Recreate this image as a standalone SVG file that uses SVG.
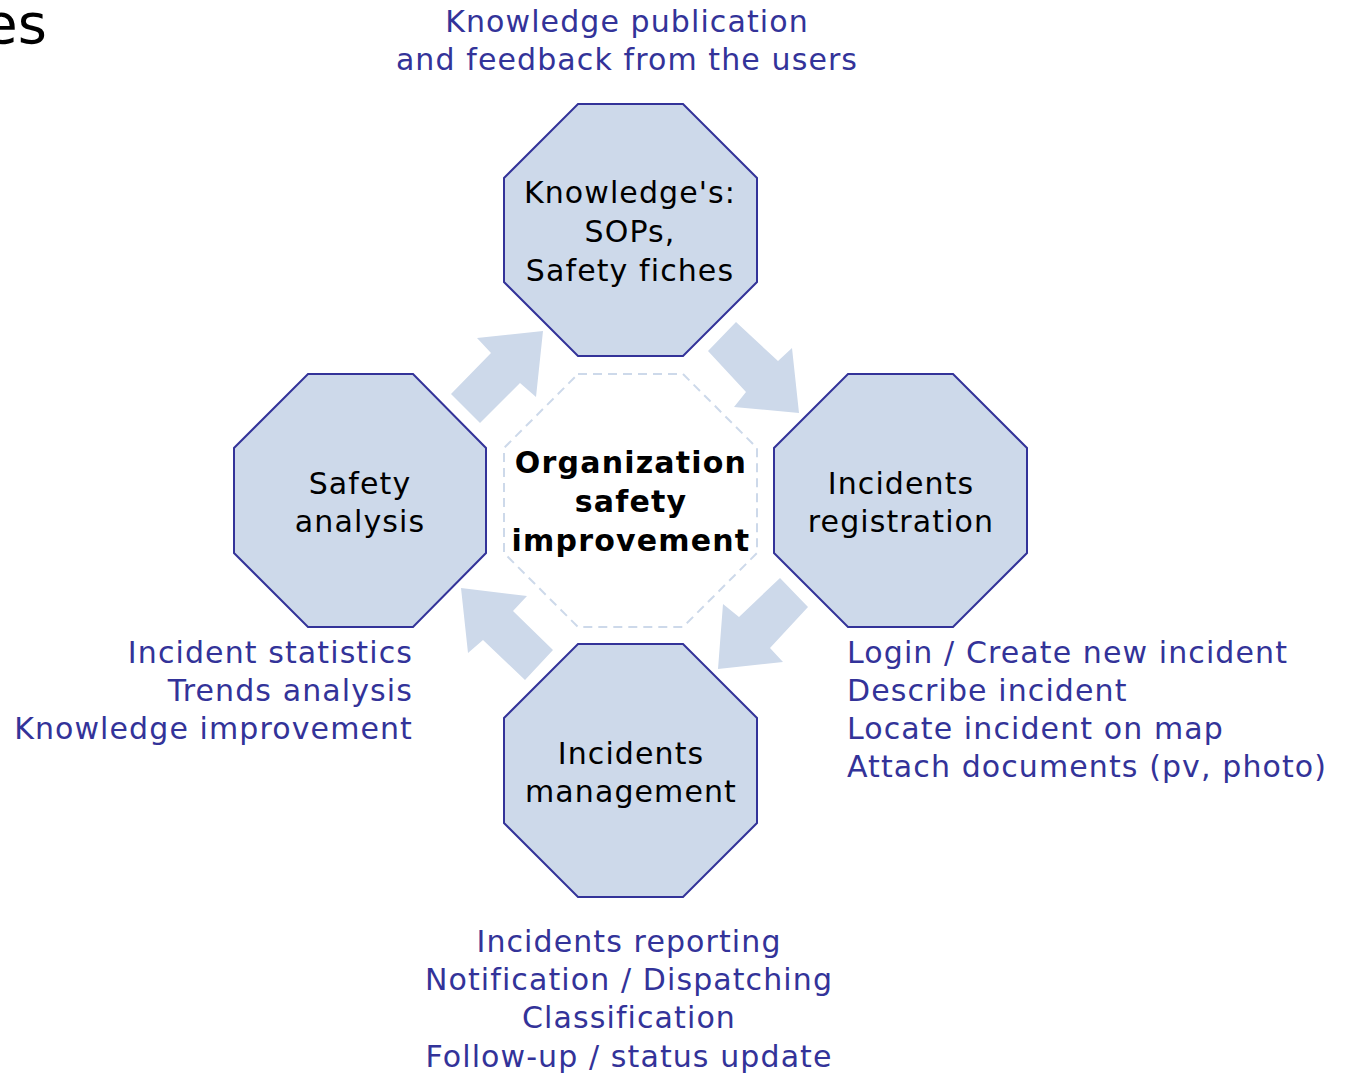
<svg xmlns="http://www.w3.org/2000/svg" width="1348" height="1073" viewBox="0 0 1348 1073">
<style>
.oct{fill:#cdd9ea;stroke:#333399;stroke-width:2}
.center{fill:#ffffff;stroke:#cdd9ea;stroke-width:2;stroke-dasharray:9 6}
.arr{fill:#cdd9ea}
.nt{font-family:"DejaVu Sans",Verdana,sans-serif;font-size:30px;letter-spacing:1.1px;fill:#000;text-anchor:middle}
.bt{font-family:"DejaVu Sans",Verdana,sans-serif;font-size:30px;letter-spacing:1.2px;font-weight:bold;fill:#000;text-anchor:middle}
.lb{font-family:"DejaVu Sans",Verdana,sans-serif;font-size:30px;letter-spacing:1.1px;fill:#333399}
</style>
<rect width="1348" height="1073" fill="#ffffff"/>
<text x="47" y="43" font-family="DejaVu Sans, sans-serif" font-size="56" fill="#000" text-anchor="end">es</text>

<g id="connectors">
<polygon class="arr" points="451,394 491,353 477,338 543,331 536,397 520,383 480,423"/>
<polygon class="arr" points="736,322 778,361 792,348 799,413 734,407 746,392 708,351"/>
<polygon class="arr" points="780,578 808,607 770,648 783,662 718,669 723,604 739,617"/>
<polygon class="arr" points="553,650 513,611 527,596 461,588 468,653 483,640 525,680"/>
</g>

<g id="center">
<polygon class="center" points="578,374 683,374 757,448 757,553 683,627 578,627 504,553 504,448"/>
<text class="bt" x="631" y="473">Organization</text>
<text class="bt" x="631" y="512">safety</text>
<text class="bt" x="631" y="551">improvement</text>
</g>

<g id="knowledge">
<polygon class="oct" points="578,104 683,104 757,178 757,282 683,356 578,356 504,282 504,178"/>
<text class="nt" x="630" y="203">Knowledge's:</text>
<text class="nt" x="630" y="242">SOPs,</text>
<text class="nt" x="630" y="281">Safety fiches</text>
</g>

<g id="safety-analysis">
<polygon class="oct" points="308,374 413,374 486,448 486,553 413,627 308,627 234,553 234,448"/>
<text class="nt" x="360" y="494">Safety</text>
<text class="nt" x="360" y="532">analysis</text>
</g>

<g id="incidents-registration">
<polygon class="oct" points="848,374 953,374 1027,448 1027,553 953,627 848,627 774,553 774,448"/>
<text class="nt" x="901" y="494">Incidents</text>
<text class="nt" x="901" y="532">registration</text>
</g>

<g id="incidents-management">
<polygon class="oct" points="578,644 683,644 757,718 757,823 683,897 578,897 504,823 504,718"/>
<text class="nt" x="631" y="764">Incidents</text>
<text class="nt" x="631" y="802">management</text>
</g>

<g id="label-top" class="lb">
<text x="627" y="32" text-anchor="middle">Knowledge publication</text>
<text x="627" y="70" text-anchor="middle">and feedback from the users</text>
</g>

<g id="label-right" class="lb">
<text x="847" y="663">Login / Create new incident</text>
<text x="847" y="701">Describe incident</text>
<text x="847" y="739">Locate incident on map</text>
<text x="847" y="777">Attach documents (pv, photo)</text>
</g>

<g id="label-left" class="lb">
<text x="413" y="663" text-anchor="end">Incident statistics</text>
<text x="413" y="701" text-anchor="end">Trends analysis</text>
<text x="413" y="739" text-anchor="end">Knowledge improvement</text>
</g>

<g id="label-bottom" class="lb">
<text x="629" y="952" text-anchor="middle">Incidents reporting</text>
<text x="629" y="990" text-anchor="middle">Notification / Dispatching</text>
<text x="629" y="1028" text-anchor="middle">Classification</text>
<text x="629" y="1067" text-anchor="middle">Follow-up / status update</text>
</g>
</svg>
